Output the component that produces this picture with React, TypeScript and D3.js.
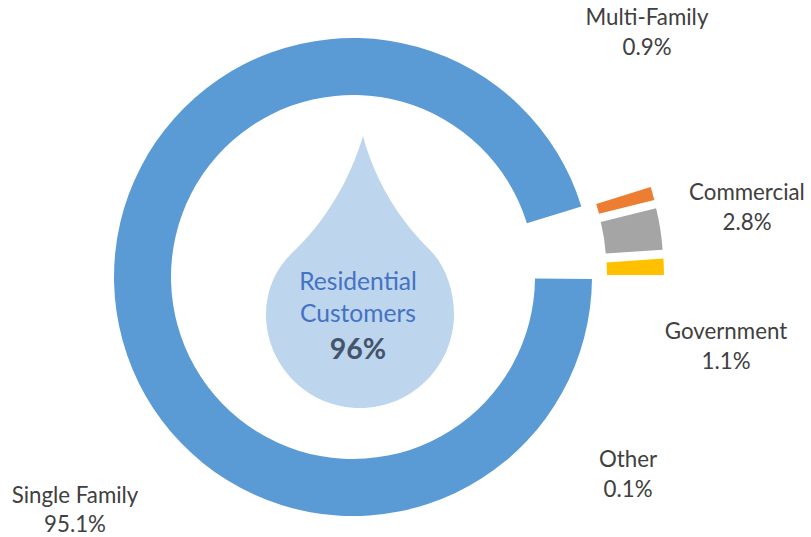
import React from "react";
import * as d3 from "d3";

const categories = ["Single Family", "Multi-Family", "Commercial", "Government", "Other"];
const shares = [95.1, 0.9, 2.8, 1.1, 0.1];
const labelValues = ["95.1%", "0.9%", "2.8%", "1.1%", "0.1%"];
const colors = ["#5B9BD5", "#ED7D31", "#A5A5A5", "#FFC000", "#ffffff"];
const exploded = [0, 72, 72, 72, 72];
const labelAnchors: [number, number][] = [[75, 502.5], [647, 25], [747, 200], [726, 339], [628, 467]];

const centerLines = ["Residential", "Customers"];
const centerValue = "96%";

const W = 811, H = 537, cx = 353, cy = 277, R = 239, r0 = 182;
const font = "Lato, Carlito, Calibri, sans-serif";

export default function App() {
  const pie = d3.pie<number>().sort(null)
    .startAngle(Math.PI / 2 + 0.008)
    .endAngle(Math.PI * 2.5 + 0.008);
  const slices = pie(shares);
  const arc = d3.arc<d3.PieArcDatum<number>>().innerRadius(r0).outerRadius(R);
  return (
    <svg width={W} height={H} viewBox={`0 0 ${W} ${H}`}
      style={{ position: "absolute", left: 0, top: 0, background: "#fff" }}>
      {slices.map((s, i) => {
        const mid = (s.startAngle + s.endAngle) / 2;
        const dx = Math.sin(mid) * exploded[i];
        const dy = -Math.cos(mid) * exploded[i];
        return <path key={categories[i]} d={arc(s) ?? ""} fill={colors[i]}
          transform={`translate(${cx + dx},${cy + dy})`} />;
      })}
      <path d="M363,136 C372,170 392,213 430,250 C445,265 454,290 454,314 C454,366 412,408 360,408 C308,408 266,366 266,314 C266,290 276,268 293,252 C325,222 350,180 363,136 Z"
        fill="#BDD5ED" />
      {centerLines.map((t, i) => (
        <text key={t} x={358} y={290 + i * 32} textAnchor="middle" fontFamily={font}
          fontSize={24.6} fill="#4472C4">{t}</text>
      ))}
      <text x={358} y={359} textAnchor="middle" fontFamily={font} fontSize={28.5}
        fontWeight={700} fill="#44546A">{centerValue}</text>
      {categories.map((c, i) => (
        <g key={c} fontFamily={font} fontSize={22.3} fill="#404040" textAnchor="middle">
          <text x={labelAnchors[i][0]} y={labelAnchors[i][1]}>{c}</text>
          <text x={labelAnchors[i][0]} y={labelAnchors[i][1] + 29.5}>{labelValues[i]}</text>
        </g>
      ))}
    </svg>
  );
}
